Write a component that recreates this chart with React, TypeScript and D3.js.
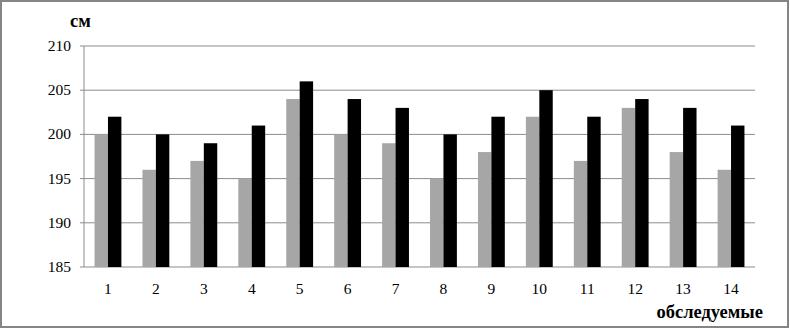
import React from "react";
import * as d3 from "d3";

const categories = ["1","2","3","4","5","6","7","8","9","10","11","12","13","14"];
const seriesGray = [200,196,197,195,204,200,199,195,198,202,197,203,198,196];
const seriesBlack = [202,200,199,201,206,204,203,200,202,205,202,204,203,201];
const yTicks = [185,190,195,200,205,210];

export default function App() {
  const W = 790, H = 329;
  const left = 84, right = 755, top = 46, bottom = 267;
  const x = d3.scaleBand<string>().domain(categories).range([left, right]).paddingInner(0.44).paddingOuter(0.22);
  const y = d3.scaleLinear().domain([185, 210]).range([bottom, top]);
  const bw = x.bandwidth() / 2;
  const font = "'Liberation Serif', 'Times New Roman', serif";
  return (
    <svg width={W} height={H} style={{ position: "absolute", left: 0, top: 0, display: "block" }} fontFamily={font}>
      <rect x={0} y={0} width={W} height={H} fill="#fff" />
      <rect x={1} y={1} width={W - 3} height={H - 3} fill="none" stroke="#858585" strokeWidth={2} />
      {yTicks.map((t) => (
        <g key={t}>
          <line x1={left - 4} x2={right} y1={y(t)} y2={y(t)} stroke="#8c8c8c" strokeWidth={1} />
          <text x={71} y={y(t) + 5} textAnchor="end" fontSize={15.5} fill="#000">{t}</text>
        </g>
      ))}
      <line x1={left} x2={left} y1={top} y2={bottom} stroke="#8c8c8c" strokeWidth={1} />
      {categories.map((c, i) => (
        <g key={c}>
          <rect x={x(c)!} y={y(seriesGray[i])} width={bw} height={bottom - y(seriesGray[i])} fill="#a6a6a6" />
          <rect x={x(c)! + bw} y={y(seriesBlack[i])} width={bw} height={bottom - y(seriesBlack[i])} fill="#000" />
          <text x={x(c)! + bw} y={294} textAnchor="middle" fontSize={15.5} fill="#000">{c}</text>
        </g>
      ))}
      <text x={70} y={27} fontSize={18.5} fontWeight="bold" fill="#000">см</text>
      <text x={763} y={318} textAnchor="end" fontSize={18.5} fontWeight="bold" fill="#000">обследуемые</text>
    </svg>
  );
}
